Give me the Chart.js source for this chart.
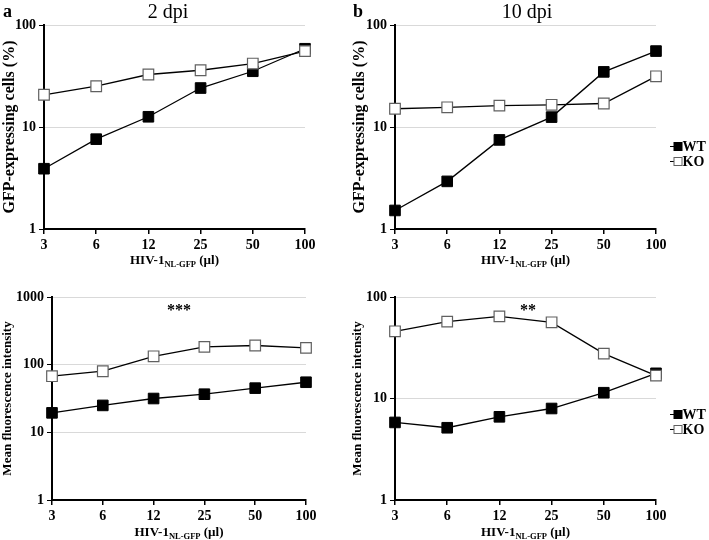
<!DOCTYPE html>
<html>
<head>
<meta charset="utf-8">
<script src="https://cdn.jsdelivr.net/npm/chart.js@4.4.1/dist/chart.umd.min.js"></script>
<style>
    body { margin: 0; background: #fff; }
    #wrap { position: relative; width: 709px; height: 540px; }
    canvas { position: absolute; }
</style>
</head>
<body>
<div id="wrap">
    <canvas id="panel-a" width="345" height="272" style="left:0;top:0"></canvas>
    <canvas id="panel-b" width="359" height="272" style="left:350px;top:0"></canvas>
    <canvas id="panel-c" width="345" height="268" style="left:0;top:272px"></canvas>
    <canvas id="panel-d" width="359" height="268" style="left:350px;top:272px"></canvas>
</div>
<script>
// HIV-1 dose (µl), shared by all four panels
const doses = ['3', '6', '12', '25', '50', '100'];

// GFP-expressing cells (%)
const gfp_2dpi_wt = [3.9, 7.6, 12.6, 24.1, 35.2, 58.5];
const gfp_2dpi_ko = [20.7, 25.1, 32.7, 36.0, 41.9, 55.5];
const gfp_10dpi_wt = [1.52, 2.93, 7.47, 12.5, 34.7, 55.5];
const gfp_10dpi_ko = [15.1, 15.6, 16.2, 16.5, 17.0, 31.4];

// mean fluorescence intensity
const mfi_2dpi_wt = [19.4, 25.0, 31.6, 36.6, 45.0, 55.0];
const mfi_2dpi_ko = [67.6, 80.0, 133, 183, 192, 177];
const mfi_10dpi_wt = [5.81, 5.15, 6.6, 7.97, 11.4, 17.7];
const mfi_10dpi_ko = [45.9, 57.2, 64.5, 56.3, 27.7, 16.8];

const gfp_ticks = [1, 10, 100];
const mfi_2dpi_ticks = [1, 10, 100, 1000];
const mfi_10dpi_ticks = [1, 10, 100];

const FONT = '"Liberation Serif", "Times New Roman", serif';

const wt_style = {
    label: 'WT',
    borderColor: '#000',
    borderWidth: 1.3,
    pointStyle: 'rect',
    pointRadius: 7.5,
    pointBackgroundColor: '#000',
    pointBorderColor: '#000',
    pointBorderWidth: 1,
    tension: 0,
    clip: false,
    order: 1
};

const ko_style = {
    label: 'KO',
    borderColor: '#000',
    borderWidth: 1.3,
    pointStyle: 'rect',
    pointRadius: 7.5,
    pointBackgroundColor: '#fff',
    pointBorderColor: '#606060',
    pointBorderWidth: 1.2,
    tension: 0,
    clip: false,
    order: 0
};

// x title with the subscript, panel letters, titles, stars and the legend
function draw_x_title(ctx, cx, y) {
    const parts = [
        { text: 'HIV-1', font: 'bold 13px ' + FONT, dy: 0 },
        { text: 'NL-GFP', font: 'bold 8.5px ' + FONT, dy: 3 },
        { text: ' (µl)', font: 'bold 13px ' + FONT, dy: 0 }
    ];
    let total = 0;
    for (const p of parts) {
        ctx.font = p.font;
        p.w = ctx.measureText(p.text).width;
        total += p.w;
    }
    let x = cx - total / 2;
    ctx.textAlign = 'left';
    ctx.textBaseline = 'alphabetic';
    for (const p of parts) {
        ctx.font = p.font;
        ctx.fillText(p.text, x, y + p.dy);
        x += p.w;
    }
}

const panel_text = {
    id: 'panelText',
    afterDraw(chart, args, opts) {
        const ctx = chart.ctx;
        const area = chart.chartArea;
        ctx.save();
        ctx.fillStyle = '#000';
        if (opts.letter) {
            ctx.font = 'bold 18px ' + FONT;
            ctx.textAlign = 'left';
            ctx.textBaseline = 'alphabetic';
            ctx.fillText(opts.letter, 3, 17);
        }
        if (opts.title) {
            ctx.font = '20px ' + FONT;
            ctx.textAlign = 'center';
            ctx.textBaseline = 'alphabetic';
            ctx.fillText(opts.title, opts.title_x, 18);
        }
        if (opts.stars) {
            ctx.font = 'bold 16px ' + FONT;
            ctx.textAlign = 'center';
            ctx.textBaseline = 'alphabetic';
            ctx.fillText(opts.stars, opts.stars_x, opts.stars_y);
        }
        draw_x_title(ctx, (area.left + area.right) / 2, opts.x_title_y);

        if (opts.legend) {
            const order = ['WT', 'KO'];
            order.forEach((name, i) => {
                const ds = chart.data.datasets.find(d => d.label === name);
                const lx = opts.legend.x;
                const ly = opts.legend.y[i];
                ctx.strokeStyle = '#000';
                ctx.lineWidth = 1;
                ctx.beginPath();
                ctx.moveTo(lx - 8, ly + 0.5);
                ctx.lineTo(lx + 3, ly + 0.5);
                ctx.stroke();
                ctx.fillStyle = ds.pointBackgroundColor;
                ctx.strokeStyle = ds.pointBorderColor;
                ctx.fillRect(lx - 4, ly - 3.5, 8, 8);
                ctx.strokeRect(lx - 4, ly - 3.5, 8, 8);
                ctx.fillStyle = '#000';
                ctx.font = 'bold 14px ' + FONT;
                ctx.textAlign = 'left';
                ctx.textBaseline = 'middle';
                ctx.fillText(name, lx + 4.5, ly + 1);
            });
        }
        ctx.restore();
    }
};

function make_panel(canvas_id, p) {
    const canvas = document.getElementById(canvas_id);
    const w = canvas.width;
    const h = canvas.height;
    return new Chart(canvas.getContext('2d'), {
        type: 'line',
        data: {
            labels: doses,
            datasets: [
                { ...ko_style, data: p.ko },
                { ...wt_style, data: p.wt }
            ]
        },
        options: {
            responsive: false,
            animation: false,
            events: [],
            layout: {
                padding: { top: p.area.top, right: w - p.area.right, left: 0, bottom: 0 }
            },
            plugins: {
                legend: { display: false },
                tooltip: { enabled: false },
                panelText: p.text
            },
            scales: {
                x: {
                    type: 'category',
                    offset: false,
                    grid: {
                        drawOnChartArea: false,
                        tickLength: 5,
                        tickColor: '#000',
                        lineWidth: 1.5
                    },
                    border: { color: '#000', width: 2 },
                    ticks: {
                        color: '#000',
                        font: { family: FONT, weight: 'bold', size: 14 },
                        padding: 3,
                        maxRotation: 0,
                        autoSkip: false
                    },
                    afterFit: (scale) => { scale.height = h - p.area.bottom; }
                },
                y: {
                    type: 'logarithmic',
                    min: 1,
                    max: p.y_max,
                    afterBuildTicks: (scale) => {
                        scale.ticks = p.y_ticks.map(v => ({ value: v }));
                    },
                    grid: {
                        color: (c) => (c.tick && c.tick.value === 1) ? 'rgba(0,0,0,0)' : '#d9d9d9',
                        tickColor: '#000',
                        tickLength: 5,
                        lineWidth: 1
                    },
                    border: { color: '#000', width: 2 },
                    ticks: {
                        color: '#000',
                        font: { family: FONT, weight: 'bold', size: 14 },
                        padding: 3,
                        callback: (v) => String(v)
                    },
                    title: {
                        display: true,
                        text: p.y_title,
                        color: '#000',
                        font: { family: FONT, weight: 'bold', size: p.y_title_size },
                        padding: 0
                    },
                    afterFit: (scale) => { scale.width = p.area.left; }
                }
            }
        },
        plugins: [panel_text]
    });
}

make_panel('panel-a', {
    wt: gfp_2dpi_wt, ko: gfp_2dpi_ko,
    y_max: 100, y_ticks: gfp_ticks,
    y_title: 'GFP-expressing cells (%)', y_title_size: 16,
    area: { left: 44, right: 305, top: 25, bottom: 229 },
    text: { letter: 'a', title: '2 dpi', title_x: 168, x_title_y: 264 }
});

make_panel('panel-b', {
    wt: gfp_10dpi_wt, ko: gfp_10dpi_ko,
    y_max: 100, y_ticks: gfp_ticks,
    y_title: 'GFP-expressing cells (%)', y_title_size: 16,
    area: { left: 45, right: 306, top: 25, bottom: 229 },
    text: { letter: 'b', title: '10 dpi', title_x: 177, x_title_y: 264,
            legend: { x: 328, y: [146, 161] } }
});

make_panel('panel-c', {
    wt: mfi_2dpi_wt, ko: mfi_2dpi_ko,
    y_max: 1000, y_ticks: mfi_2dpi_ticks,
    y_title: 'Mean fluorescence intensity', y_title_size: 13,
    area: { left: 52, right: 306, top: 25, bottom: 228 },
    text: { stars: '***', stars_x: 179, stars_y: 43, x_title_y: 264 }
});

make_panel('panel-d', {
    wt: mfi_10dpi_wt, ko: mfi_10dpi_ko,
    y_max: 100, y_ticks: mfi_10dpi_ticks,
    y_title: 'Mean fluorescence intensity', y_title_size: 13,
    area: { left: 45, right: 306, top: 25, bottom: 228 },
    text: { stars: '**', stars_x: 178, stars_y: 43, x_title_y: 264,
            legend: { x: 328, y: [142, 157] } }
});
</script>
</body>
</html>
